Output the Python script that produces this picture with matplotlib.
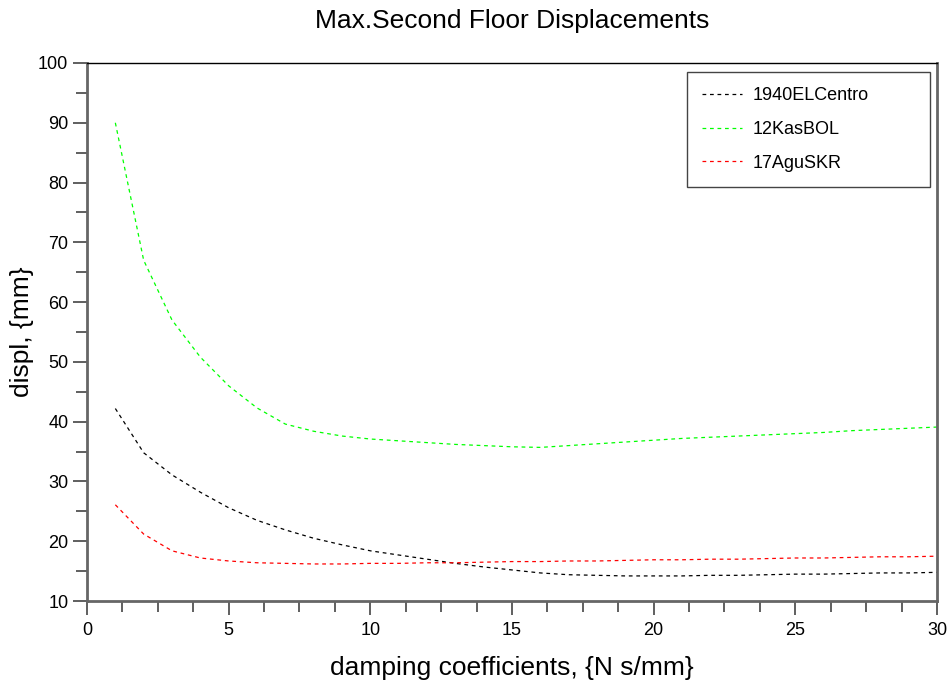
import matplotlib

matplotlib.use("Agg")
import matplotlib.pyplot as plt  # noqa: E402
from matplotlib.ticker import MultipleLocator  # noqa: E402

damping = list(range(1, 31))

# values
el_centro = [42.2, 34.8, 31.1, 28.2, 25.6, 23.5, 21.9, 20.5, 19.4, 18.4,
             17.7, 17.0, 16.3, 15.7, 15.2, 14.7, 14.4, 14.3, 14.2, 14.2,
             14.2, 14.3, 14.3, 14.4, 14.5, 14.5, 14.6, 14.7, 14.7, 14.8]
kas_bol = [90.0, 67.0, 57.0, 50.8, 46.0, 42.3, 39.6, 38.4, 37.6, 37.1,
           36.8, 36.5, 36.2, 36.0, 35.8, 35.7, 36.0, 36.3, 36.6, 36.9,
           37.2, 37.4, 37.6, 37.8, 38.0, 38.2, 38.5, 38.7, 38.9, 39.1]
agu_skr = [26.1, 21.2, 18.4, 17.2, 16.7, 16.4, 16.3, 16.2, 16.2, 16.3,
           16.3, 16.4, 16.4, 16.5, 16.6, 16.6, 16.7, 16.7, 16.8, 16.9,
           16.9, 17.0, 17.0, 17.1, 17.2, 17.2, 17.3, 17.4, 17.4, 17.5]

plt.rcParams["font.family"] = ["Liberation Sans", "DejaVu Sans"]

fig = plt.figure(figsize=(9.52, 6.84), dpi=100)
ax = fig.add_axes([0.0914, 0.1213, 0.8928, 0.7866])

ax.plot(damping, el_centro, color="black", linestyle=(0, (3, 3)), linewidth=0.9, label="1940ELCentro")
ax.plot(damping, kas_bol, color="#00ff00", linestyle=(0, (3, 3)), linewidth=0.9, label="12KasBOL")
ax.plot(damping, agu_skr, color="#ff0000", linestyle=(0, (3, 3)), linewidth=0.9, label="17AguSKR")

ax.set_xlim(0, 30)
ax.set_ylim(10, 100)
ax.xaxis.set_major_locator(MultipleLocator(5))
ax.xaxis.set_minor_locator(MultipleLocator(1.25))
ax.yaxis.set_major_locator(MultipleLocator(10))
ax.yaxis.set_minor_locator(MultipleLocator(5))
ax.tick_params(which="major", length=10, width=1.2, labelsize=13, color="#444444")
ax.tick_params(which="minor", length=8, width=1.2, color="#444444")
ax.tick_params(axis="x", pad=5)

for side in ("left", "bottom", "right"):
    ax.spines[side].set_color("#666666")
    ax.spines[side].set_linewidth(2)
ax.spines["top"].set_color("black")
ax.spines["top"].set_linewidth(1)

ax.set_title("Max.Second Floor Displacements", fontsize=19, pad=25)
ax.set_xlabel("damping coefficients, {N s/mm}", fontsize=19, labelpad=12)
ax.set_ylabel("displ, {mm}", fontsize=19, labelpad=3)

leg = ax.legend(loc="upper left", bbox_to_anchor=(0.706, 0.78, 0.286, 0.2033),
                mode="expand", borderaxespad=0, fontsize=13,
                handlelength=2.2, handletextpad=0.6, labelspacing=0.92,
                borderpad=0.85, fancybox=False, framealpha=1, edgecolor="#444444")
leg.get_frame().set_linewidth(1)

fig.savefig("out.png", dpi=100)
plt.close(fig)
